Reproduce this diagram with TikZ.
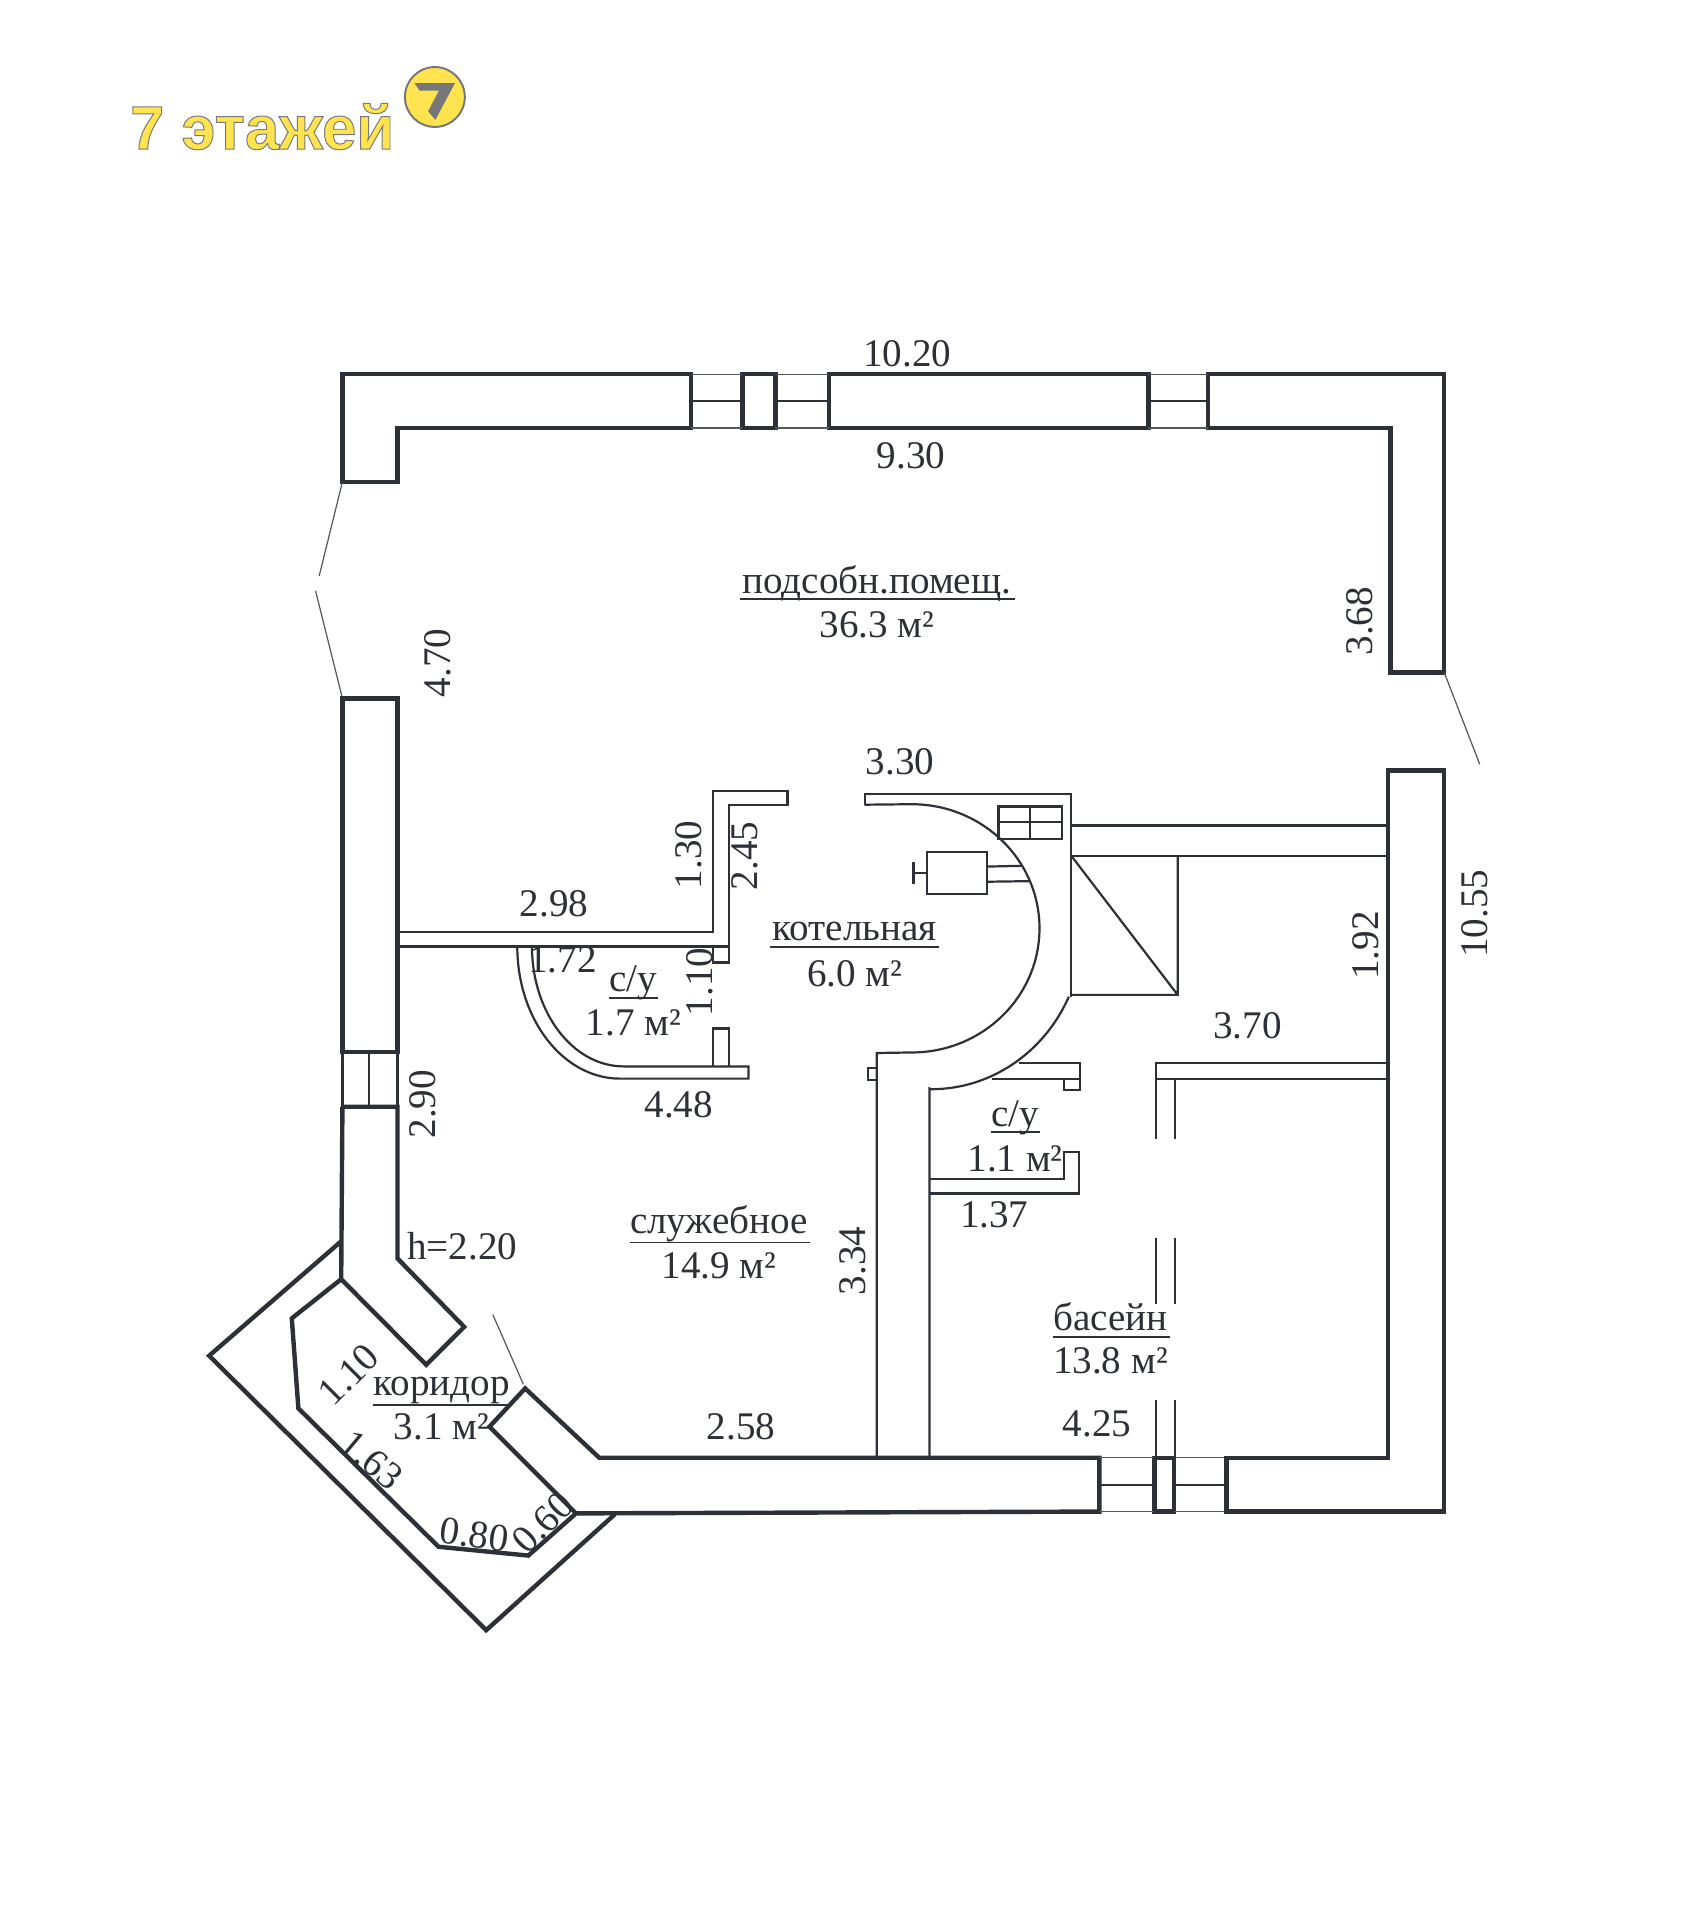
\documentclass[tikz,border=0pt]{standalone}
\usepackage{fontspec}
\setmainfont{Liberation Serif}
\newfontfamily\logofont{Liberation Sans Bold}
\definecolor{ink}{HTML}{2E3038}
\definecolor{soft}{HTML}{55575E}
\definecolor{logoyellow}{HTML}{FFE34F}
\definecolor{logogrey}{HTML}{77777A}
\tikzset{
  wall/.style={draw=ink,line width=1.8pt,line join=miter},
  part/.style={draw=ink,line width=0.9pt},
  thin/.style={draw=soft,line width=0.5pt},
  lab/.style={font=\fontsize{16}{16}\selectfont,text=ink,inner sep=0pt},
  rule/.style={draw=ink,line width=0.8pt}
}
\begin{document}
\begin{tikzpicture}[x=0.5pt,y=-0.5pt]
\useasboundingbox (0,0) rectangle (1388.5,1570);
\begin{scope}[yshift=-0.5pt]
% logo
\node[font=\logofont\fontsize{25.2}{26}\selectfont,text=logoyellow,inner sep=0pt,anchor=base west] (logotext) at (106,121)
  {\special{pdf:code 2 Tr 0.4 w 0.47 0.47 0.48 RG}7 этажей\special{pdf:code 0 Tr}};
\draw[fill=logoyellow,draw=logogrey,line width=0.8pt] (355.6,78.3) circle [radius=24.5];
\fill[logogrey] (339,67) -- (372,67) -- (356,97) -- (350,90) -- (359,73) -- (343,73) -- cycle;
% top walls
\draw[wall] (280,305) -- (565,305) -- (565,349) -- (325,349) -- (325,393) -- (280,393) -- cycle;
\draw[wall] (607,305) rectangle (634,349);
\draw[wall] (678,305) rectangle (939,349);
\draw[wall] (988,305) -- (1181,305) -- (1181,549) -- (1137,549) -- (1137,349) -- (988,349) -- cycle;
\draw[thin] (565,305) -- (607,305) (565,349) -- (607,349) (634,305) -- (678,305) (634,349) -- (678,349) (939,305) -- (988,305) (939,349) -- (988,349);
\draw[part] (565,327) -- (607,327) (634,327) -- (678,327) (939,327) -- (988,327);
% left walls
\draw[thin] (280,393) -- (261,470) (258,482) -- (280,570) (1181,549) -- (1210,624) (403,1074) -- (428,1131);
\draw[wall] (280,570) rectangle (325,859);
\draw[part] (280,859) -- (280,904) (325,859) -- (325,904) (302,859) -- (302,904);
\draw[wall] (280,904) -- (325,904) -- (325,1028) -- (379.6,1084) -- (348.5,1115) -- (279,1045) -- (280,904);
% corridor
\draw[wall] (279,1014) -- (171,1107.6) -- (397.6,1332) -- (503,1237);
\draw[wall] (279,1045) -- (238.6,1077) -- (244,1150.6) -- (358.6,1263.8) -- (432,1271) -- (471,1236.5) -- (400.3,1165.6) -- (429.4,1134.3) -- (490,1191) -- (899,1191) -- (899,1235) -- (471,1236.5);
% bottom and right walls
\draw[wall] (944,1191) rectangle (960,1235);
\draw[thin] (899,1191) -- (944,1191) (899,1235) -- (944,1235) (960,1191) -- (1003,1191) (960,1235) -- (1003,1235);
\draw[part] (899,1213) -- (944,1213) (960,1213) -- (1003,1213);
\draw[wall] (1003,1191) -- (1135,1191) -- (1135,629) -- (1181,629) -- (1181,1235) -- (1003,1235) -- cycle;
% left partitions
\draw[part] (325,761) -- (583,761) -- (583,646) -- (644,646) -- (644,657) -- (596,657) -- (596,773) -- (325,773);
\draw[part] (583,773) -- (583,786) -- (596,786) -- (596,773);
\draw[part] (583,871) -- (583,840) -- (596,840) -- (596,871);
\draw[part] (423,773) arc[start angle=180,end angle=90,x radius=84,y radius=108] -- (612,881) -- (612,871) -- (510,871) arc[start angle=90,end angle=180,x radius=75,y radius=98];
% boiler room
\draw[part] (707,657) -- (707,648.5) -- (876,648.5) -- (876,814);
\draw[part] (707,657) -- (745.5,656.6) arc[start angle=-90,end angle=90,x radius=104.5,y radius=101.5] -- (719,860) -- (717,860) -- (717,1191);
\draw[part] (874,814) arc[start angle=25,end angle=90,x radius=124,y radius=131] -- (760,889) -- (760,1191);
\draw[part] (816.5,658.5) rectangle (868.7,685) (842.5,658.5) -- (842.5,685) (816.5,671.3) -- (868.7,671.3);
\draw[part] (757.8,695.8) rectangle (806.9,730) (757.8,713) -- (747,713) (747,703.5) -- (747,722);
\draw[part] (806.9,707.6) -- (835,707) (806.9,720) -- (842,719.5);
\draw[part] (710,872.6) rectangle (717,882);
% stairs and corridor right
\draw[part] (876,674) -- (1135,674) (876,698.8) -- (1135,698.8);
\draw[part] (963,698.8) -- (963,812.5) -- (875,812.5) (876,698.8) -- (963,812.5);
% lower small room
\draw[part] (833,868) -- (883,868) -- (883,890) -- (870,890) -- (870,881) -- (811,881) (870,881) -- (883,881);
\draw[part] (760,963) -- (870,963) -- (870,941) -- (882,941) -- (882,975) -- (760,975);
% pool partition
\draw[part] (945,930) -- (945,868) -- (1135,868) (1135,881) -- (945,881) (961,881) -- (961,930);
\draw[part] (945,1011) -- (945,1065) (945,1144) -- (945,1191);
\draw[part] (960.5,1011) -- (960.5,1065) (960.5,1144) -- (960.5,1191);
% underlines
\draw[rule] (605,489) -- (830,489) (630,773) -- (768,773) (498,815) -- (538,815) (810,925) -- (850,925) (515,1015) -- (662,1015) (861,1092) -- (957,1092) (305,1148) -- (418,1148);
% labels
\node[lab] (d1020) at (742,288) {10.20};
\node[lab] (d930) at (745,372) {9.30};
\node[lab] (r1a) at (717,476) {подсобн.помещ.};
\node[lab] (r1b) at (717,510) {36.3 м²};
\node[lab] (d330) at (736,622) {3.30};
\node[lab,rotate=90] (d368) at (1112,507) {3.68};
\node[lab,rotate=90] (d470) at (358,541) {4.70};
\node[lab,rotate=90] (d130) at (563,698) {1.30};
\node[lab,rotate=90] (d245) at (609,699) {2.45};
\node[lab] (d298) at (453,738) {2.98};
\node[lab] (d172) at (460,784) {1.72};
\node[lab] (r2a) at (518,803) {с/у};
\node[lab] (r2b) at (518,835) {1.7 м²};
\node[lab,rotate=90] (d110) at (572,802) {1.10};
\node[lab] (r3a) at (699,761) {котельная};
\node[lab] (r3b) at (699,795) {6.0 м²};
\node[lab,rotate=90] (d192) at (1117,772) {1.92};
\node[lab,rotate=90] (d1055) at (1206,746) {10.55};
\node[lab] (d370) at (1020,838) {3.70};
\node[lab] (d448) at (555,902) {4.48};
\node[lab,rotate=90] (d290) at (346,902) {2.90};
\node[lab] (r4a) at (830,913) {с/у};
\node[lab] (r4b) at (830,947) {1.1 м²};
\node[lab] (d137) at (813,992) {1.37};
\node[lab] (h220) at (378,1018) {h=2.20};
\node[lab] (r5a) at (588,1000) {служебное};
\node[lab] (r5b) at (588,1034) {14.9 м²};
\node[lab,rotate=90] (d334) at (697,1030) {3.34};
\node[lab] (r6a) at (908,1076) {басейн};
\node[lab] (r6b) at (908,1112) {13.8 м²};
\node[lab] (d425) at (897,1163) {4.25};
\node[lab] (d258) at (606,1166) {2.58};
\node[lab] (r7a) at (361,1136) {коридор};
\node[lab] (r7b) at (361,1166) {3.1 м²};
\node[lab,rotate=45] (d110b) at (285,1123) {1.10};
\node[lab,rotate=-40] (d163) at (304,1193) {1.63};
\node[lab,rotate=-8] (d080) at (388,1254) {0.80};
\node[lab,rotate=45] (d060) at (444,1244) {0.60};
\end{scope}
\end{tikzpicture}
\end{document}
